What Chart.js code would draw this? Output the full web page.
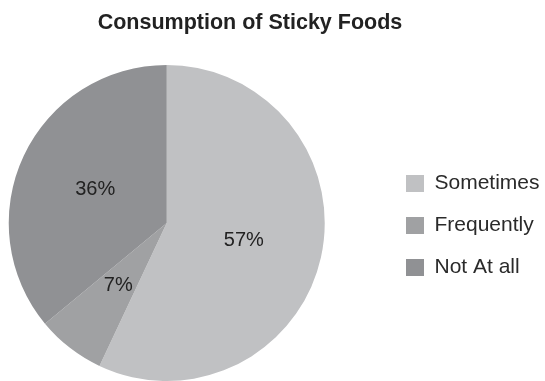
<!DOCTYPE html>
<html><head><meta charset="utf-8">
<script src="https://cdn.jsdelivr.net/npm/chart.js@4.4.1/dist/chart.umd.min.js"></script>
<style>html,body{margin:0;padding:0;background:#fff;} #wrap{width:545px;height:381px;}</style>
</head><body><div id="wrap"><canvas id="c" width="545" height="381"></canvas></div>
<script>
const categories = ['Sometimes', 'Frequently', 'Not At all'];
const values = [57, 7, 36];
const colors = ['#c0c1c3', '#a0a1a3', '#909194'];
const titleText = 'Consumption of Sticky Foods';
const FONT = '"Liberation Sans", Arial, Helvetica, sans-serif';

const sliceLabels = {
  id: 'sliceLabels',
  afterDatasetsDraw(chart) {
    const ctx = chart.ctx;
    const meta = chart.getDatasetMeta(0);
    ctx.save();
    ctx.font = '20px ' + FONT;
    ctx.fillStyle = '#222222';
    ctx.textAlign = 'center';
    ctx.textBaseline = 'middle';
    meta.data.forEach((arc, i) => {
      const p = arc.tooltipPosition(true);
      ctx.fillText(values[i] + '%', p.x, p.y);
    });
    ctx.restore();
  }
};

const placeBlocks = {
  id: 'placeBlocks',
  afterLayout(chart) {
    const lg = chart.legend;
    const pad = lg.options.labels.padding;
    const w = lg.width;
    lg.left = 406 - pad; lg.right = lg.left + w;
    lg.top += 35; lg.bottom += 35;
    const t = chart.titleBlock;
    t.left = 0; t.right = 500;
  }
};

new Chart(document.getElementById('c'), {
  type: 'pie',
  data: {
    labels: categories,
    datasets: [{
      data: values,
      backgroundColor: colors,
      borderWidth: 0
    }]
  },
  options: {
    responsive: false,
    animation: false,
    layout: { padding: { left: 8, right: 55, top: 0, bottom: 0 } },
    plugins: {
      title: {
        display: true, text: titleText, color: '#222222',
        font: { family: FONT, size: 21.5, weight: 'bold' },
        padding: { top: 10, bottom: 29.2 }
      },
      legend: {
        position: 'right',
        labels: {
          boxWidth: 18, boxHeight: 17, padding: 21, color: '#2a2a2a',
          font: { family: FONT, size: 21 }
        }
      },
      tooltip: { enabled: false }
    }
  },
  plugins: [sliceLabels, placeBlocks]
});
</script>
</body></html>
